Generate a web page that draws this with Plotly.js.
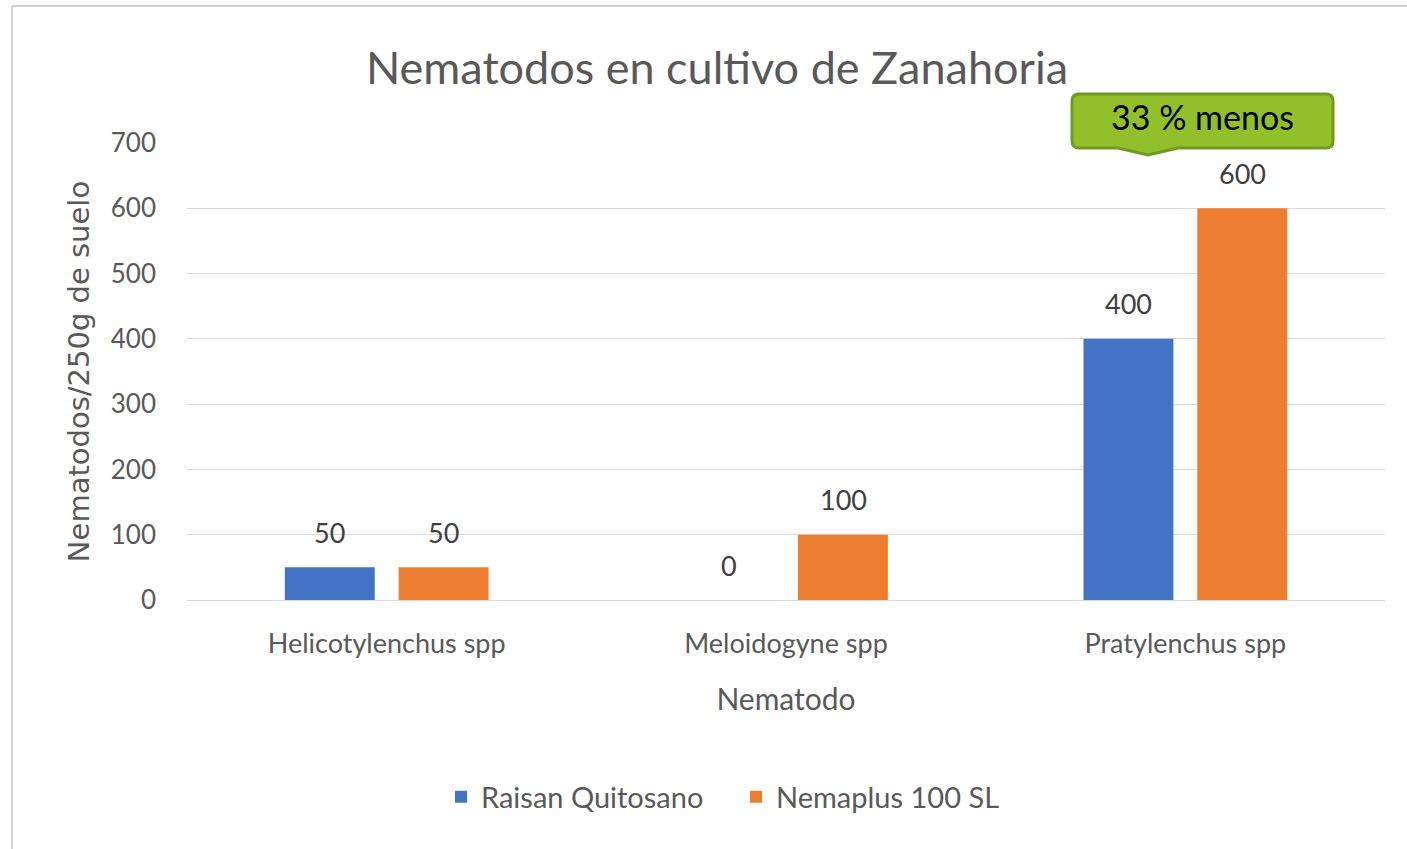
<!DOCTYPE html>
<html>
<head>
<meta charset="utf-8">
<script src="https://cdn.plot.ly/plotly-3.0.1.min.js"></script>
<style>
  html, body { margin: 0; padding: 0; background: #fff; }
  #chart { width: 1407px; height: 849px; }
</style>
</head>
<body>
<div id="chart"></div>
<script>
// data
var nematodos = ["Helicotylenchus spp", "Meloidogyne spp", "Pratylenchus spp"];
var raisan = [50, 0, 400];
var nemaplus = [50, 100, 600];
var serieNames = ["Raisan Quitosano", "Nemaplus 100 SL"];
var yTicks = [0, 100, 200, 300, 400, 500, 600, 700];

var W = 1407, H = 849;
var mL = 187, mR = 22, mT = 143, mB = 249;
var pw = W - mL - mR, ph = H - mT - mB;
// pixel -> paper helpers for the decorations
function px(x) { return (x - mL) / pw; }
function py(y) { return (H - mB - y) / ph; }

var fnt = "Lato, 'Open Sans', sans-serif";
var grey = "#595959";

var trace1 = {
    x: nematodos, y: raisan, name: serieNames[0], type: "bar",
    marker: {color: "#4472C4"}, hoverinfo: "x+y+name"
};
var trace2 = {
    x: nematodos, y: nemaplus, name: serieNames[1], type: "bar",
    marker: {color: "#ED7D31"}, hoverinfo: "x+y+name"
};

// value labels above the bars
var labels = [];
nematodos.forEach(function(c, i) {
    labels.push({x: c, y: raisan[i], text: String(raisan[i]), xshift: -57, yshift: 35,
        showarrow: false, font: {family: fnt, size: 27, color: "#404040"}});
    labels.push({x: c, y: nemaplus[i], text: String(nemaplus[i]), xshift: 57, yshift: 35,
        showarrow: false, font: {family: fnt, size: 27, color: "#404040"}});
});

// green callout "33 % menos"
var bx0 = 1072, bx1 = 1333, by0 = 94, by1 = 148, r = 7;
var calloutPath =
    "M" + px(bx0 + r) + "," + py(by0) +
    " L" + px(bx1 - r) + "," + py(by0) +
    " Q" + px(bx1) + "," + py(by0) + " " + px(bx1) + "," + py(by0 + r) +
    " L" + px(bx1) + "," + py(by1 - r) +
    " Q" + px(bx1) + "," + py(by1) + " " + px(bx1 - r) + "," + py(by1) +
    " L" + px(1178) + "," + py(by1) +
    " L" + px(1148) + "," + py(155) +
    " L" + px(1118) + "," + py(by1) +
    " L" + px(bx0 + r) + "," + py(by1) +
    " Q" + px(bx0) + "," + py(by1) + " " + px(bx0) + "," + py(by1 - r) +
    " L" + px(bx0) + "," + py(by0 + r) +
    " Q" + px(bx0) + "," + py(by0) + " " + px(bx0 + r) + "," + py(by0) + " Z";

labels.push({xref: "paper", yref: "paper", x: px(1202), y: py(117), xanchor: "center", yanchor: "middle",
    text: "33 % menos", showarrow: false, font: {family: "Lato, sans-serif", size: 34, color: "#000"}});

var layout = {
    width: W, height: H,
    margin: {l: mL, r: mR, t: mT, b: mB},
    paper_bgcolor: "#fff", plot_bgcolor: "#fff",
    title: {text: "Nematodos en cultivo de Zanahoria", font: {family: fnt, size: 45, color: grey},
        x: 717 / W, xanchor: "center", y: 1 - 68 / H, yanchor: "middle"},
    barmode: "group", bargap: 0.43, bargroupgap: 0.21,
    xaxis: {
        title: {text: "Nematodo", font: {family: fnt, size: 30, color: grey}, standoff: 30},
        tickfont: {family: fnt, size: 27, color: grey},
        showline: true, linecolor: "#D9D9D9", ticks: "", ticklabelstandoff: 20,
        automargin: false
    },
    yaxis: {
        title: {text: "Nematodos/250g de suelo", font: {family: "'DejaVu Sans', sans-serif", size: 29, color: grey}, standoff: 12},
        range: [0, 700], tickvals: yTicks,
        tickfont: {family: fnt, size: 26, color: grey},
        gridcolor: "#D9D9D9", gridwidth: 1.3, zeroline: false, showline: false,
        ticks: "", ticklabelstandoff: 30, automargin: false
    },
    legend: {orientation: "h", x: px(736), xanchor: "center", y: py(797), yanchor: "middle",
        font: {family: fnt, size: 29, color: grey}, itemwidth: 30, traceorder: "normal",
        entrywidth: 250, entrywidthmode: "pixels"},
    annotations: labels,
    shapes: [
        {type: "path", xref: "paper", yref: "paper", path: calloutPath,
            fillcolor: "#92C02A", line: {color: "#6E9A1F", width: 3}},
        // chart frame (top and left edges)
        {type: "line", xref: "paper", yref: "paper", x0: px(12), x1: px(W), y0: py(6), y1: py(6),
            line: {color: "#D0D0D0", width: 2}},
        {type: "line", xref: "paper", yref: "paper", x0: px(12), x1: px(12), y0: py(6), y1: py(H),
            line: {color: "#D0D0D0", width: 2}}
    ],
    showlegend: true
};

Plotly.newPlot("chart", [trace1, trace2], layout, {displayModeBar: false});
</script>
</body>
</html>
